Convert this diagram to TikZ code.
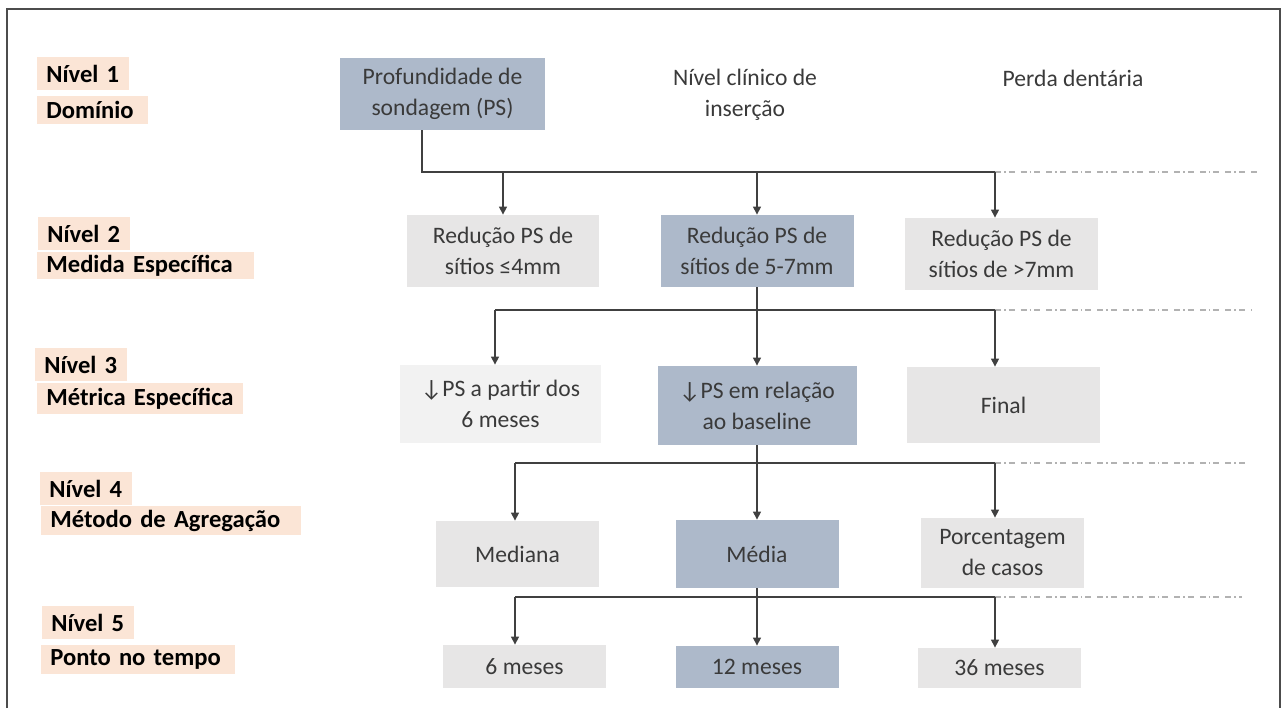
\documentclass[tikz,border=0pt]{standalone}
\usepackage{fontspec}
\setmainfont{Carlito}
\usetikzlibrary{arrows.meta}

\definecolor{azulcinza}{HTML}{ADB9CA}
\definecolor{cinza}{HTML}{E7E6E6}
\definecolor{cinzaclaro}{HTML}{F2F2F2}
\definecolor{salmao}{HTML}{FBE5D6}
\definecolor{texto}{HTML}{3A3A3A}
\definecolor{linha}{HTML}{404040}

\begin{document}
\begin{tikzpicture}[x=0.5pt,y=-0.5pt,>={Triangle[length=4pt,width=4pt]},font=\fontsize{11.8}{15.5}\selectfont]
    \tikzstyle{caixa}=[rectangle,fill=cinza,text=texto,align=center,inner sep=0pt]
    \tikzstyle{destaque}=[caixa,fill=azulcinza]
    \tikzstyle{suave}=[caixa,fill=cinzaclaro]
    \tikzstyle{rotulo}=[anchor=north west,fill=salmao,inner xsep=4.5pt,inner ysep=0pt,align=left,font=\fontsize{12.3}{15}\selectfont\bfseries]
    \tikzstyle{liga}=[draw=linha,line width=0.6pt]
    \tikzstyle{tracejado}=[draw=gray!60,line width=0.6pt,dash pattern=on 3pt off 1.5pt on 0.8pt off 1.5pt on 3pt off 3pt]

    \useasboundingbox (0,0) rectangle (1284,708);
    % moldura
    \draw[draw=gray!60!black,line width=1pt] (7,708) -- (7,9) -- (1280,9) -- (1280,708);

    % niveis
    \node[rotulo,text width=37pt,minimum height=16.5pt] (n1) at (37,57) {Nível 1};
    \node[rotulo,text width=46.5pt,minimum height=14pt] (d1) at (37,96) {Domínio};
    \node[rotulo,text width=37pt,minimum height=16.5pt] (n2) at (38,217) {Nível 2};
    \node[rotulo,text width=99.5pt,minimum height=13.5pt] (d2) at (37,252) {Medida Específica};
    \node[rotulo,text width=37pt,minimum height=16.5pt] (n3) at (35,348) {Nível 3};
    \node[rotulo,text width=94pt,minimum height=15.5pt] (d3) at (37,383) {Métrica Específica};
    \node[rotulo,text width=37pt,minimum height=16.5pt] (n4) at (40,472) {Nível 4};
    \node[rotulo,text width=121pt,minimum height=14.5pt] (d4) at (41,506) {Método de Agregação};
    \node[rotulo,text width=37pt,minimum height=16.5pt] (n5) at (42,606) {Nível 5};
    \node[rotulo,text width=88pt,minimum height=14.5pt] (d5) at (41,645) {Ponto no tempo};

    % nivel 1
    \node[destaque,minimum width=102.5pt,minimum height=36pt] (ps) at (442.5,94) {Profundidade de\\sondagem (PS)};
    \node[text=texto,align=center] (nci) at (745,95) {Nível clínico de\\inserção};
    \node[text=texto] (pd) at (1073,78) {Perda dentária};

    % nivel 2
    \node[caixa,minimum width=96pt,minimum height=36pt] (r4) at (503,251) {Redução PS de\\sítios ≤4mm};
    \node[destaque,minimum width=96.5pt,minimum height=36pt] (r57) at (757,251) {Redução PS de\\sítios de 5-7mm};
    \node[caixa,minimum width=96.5pt,minimum height=36pt] (r7) at (1001.5,254) {Redução PS de\\sítios de >7mm};

    % nivel 3
    \node[suave,minimum width=100.5pt,minimum height=39pt] (pa6) at (500.5,404) {↓PS a partir dos\\6 meses};
    \node[destaque,minimum width=99.5pt,minimum height=39.5pt] (bl) at (757,405.5) {↓PS em relação\\ao baseline};
    \node[caixa,minimum width=96.5pt,minimum height=38pt] (fin) at (1003.5,405) {Final};

    % nivel 4
    \node[caixa,minimum width=81.5pt,minimum height=33pt] (med) at (517.5,554) {Mediana};
    \node[destaque,minimum width=81.5pt,minimum height=34pt] (media) at (757,554) {Média};
    \node[caixa,minimum width=81.5pt,minimum height=35pt] (pc) at (1002.5,553) {Porcentagem\\de casos};

    % nivel 5
    \node[caixa,minimum width=81.5pt,minimum height=21.5pt] (m6) at (524.5,666.5) {6 meses};
    \node[destaque,minimum width=81.5pt,minimum height=21pt] (m12) at (757,667) {12 meses};
    \node[caixa,minimum width=81.5pt,minimum height=20pt] (m36) at (999.5,668) {36 meses};

    % barramentos
    \coordinate (b1w) at (422,172);
    \coordinate (b1e) at (995,172);
    \coordinate (b1f) at (1258,172);
    \coordinate (b2w) at (495,310);
    \coordinate (b2e) at (995,310);
    \coordinate (b2f) at (1252,310);
    \coordinate (b3w) at (515,463);
    \coordinate (b3e) at (995,463);
    \coordinate (b3f) at (1245,463);
    \coordinate (b4w) at (515,597);
    \coordinate (b4e) at (995,597);
    \coordinate (b4f) at (1242,597);

    \draw[liga] (ps.south -| b1w) -- (b1w) -- (b1e);
    \draw[tracejado] (b1e) -- (b1f);
    \draw[liga,->] (r4 |- b1w) -- (r4.north);
    \draw[liga,->] (r57 |- b1w) -- (r57.north);
    \draw[liga,->] (b1e) -- (b1e |- r7.north);

    \draw[liga,->] (r57.south) -- (bl.north);
    \draw[liga] (b2w) -- (b2e);
    \draw[tracejado] (b2e) -- (b2f);
    \draw[liga,->] (b2w) -- (b2w |- pa6.north);
    \draw[liga,->] (b2e) -- (b2e |- fin.north);

    \draw[liga,->] (bl.south) -- (media.north);
    \draw[liga] (b3w) -- (b3e);
    \draw[tracejado] (b3e) -- (b3f);
    \draw[liga,->] (b3w) -- (b3w |- med.north);
    \draw[liga,->] (b3e) -- (b3e |- pc.north);

    \draw[liga,->] (media.south) -- (m12.north);
    \draw[liga] (b4w) -- (b4e);
    \draw[tracejado] (b4e) -- (b4f);
    \draw[liga,->] (b4w) -- (b4w |- m6.north);
    \draw[liga,->] (b4e) -- (b4e |- m36.north);
\end{tikzpicture}
\end{document}
